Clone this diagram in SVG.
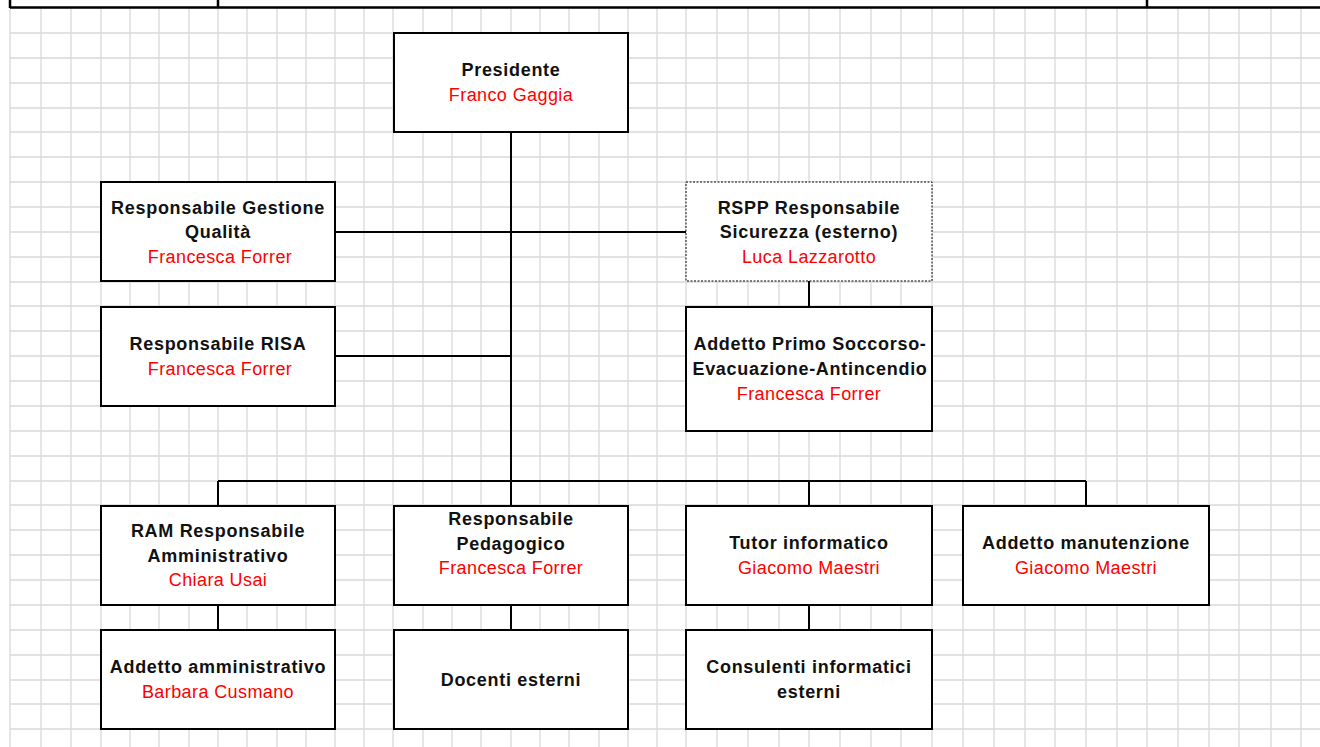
<svg xmlns="http://www.w3.org/2000/svg" width="1320" height="747" viewBox="0 0 1320 747">
<style>
.grid{stroke:#d9d9d9;stroke-width:1.3;fill:none}
.box{fill:#fff;stroke:#000;stroke-width:2}
.dbox{fill:#fff;stroke:#000;stroke-width:1;stroke-dasharray:2 1.5}
.conn{stroke:#000;stroke-width:2;fill:none}
.hdr{stroke:#000;stroke-width:2.5;fill:none}
text{font-family:"Liberation Sans",Arial,sans-serif;font-size:18px;letter-spacing:0.4px;text-anchor:middle}
.t{font-weight:bold;fill:#111;letter-spacing:0.7px}
.n{fill:#ff0000}
</style>
<rect width="1320" height="747" fill="#fff"/>
<g id="grid">
<path class="grid" d="M10,8V747M41,8V747M71,8V747M101,8V747M130,8V747M159,8V747M189,8V747M218,8V747M247,8V747M277,8V747M306,8V747M335,8V747M364,8V747M393,8V747M423,8V747M452,8V747M481,8V747M511,8V747M540,8V747M569,8V747M599,8V747M628,8V747M657,8V747M686,8V747M717,8V747M748,8V747M779,8V747M809,8V747M840,8V747M871,8V747M901,8V747M932,8V747M963,8V747M994,8V747M1025,8V747M1055,8V747M1086,8V747M1117,8V747M1147,8V747M1178,8V747M1209,8V747M1239,8V747M1271,8V747M1301,8V747"/>
<path class="grid" d="M10,33H1320M10,58H1320M10,83H1320M10,108H1320M10,132H1320M10,157H1320M10,182H1320M10,207H1320M10,232H1320M10,257H1320M10,282H1320M10,306H1320M10,331H1320M10,356H1320M10,381H1320M10,406H1320M10,431H1320M10,456H1320M10,481H1320M10,505H1320M10,530H1320M10,555H1320M10,580H1320M10,605H1320M10,630H1320M10,655H1320M10,680H1320M10,704H1320M10,729H1320"/>
</g>
<g id="header">
<path class="hdr" d="M10,7.5H1320M10,0V8M218,0V8M1147,0V8"/>
</g>
<g id="connectors">
<path class="conn" d="M511,132V481M335,232H686M335,356H511M218,481H1086M218,481V506M511,481V506M809,481V506M1086,481V506M809,281V307M218,605V630M511,605V630M809,605V630"/>
</g>
<g id="presidente">
<rect class="box" x="394" y="33" width="234" height="99"/>
<text class="t" x="511" y="76">Presidente</text>
<text class="n" x="511" y="101">Franco Gaggia</text>
</g>
<g id="qualita">
<rect class="box" x="101" y="182" width="234" height="99"/>
<text class="t" x="218" y="214">Responsabile Gestione</text>
<text class="t" x="218" y="238">Qualità</text>
<text class="n" x="220" y="263">Francesca Forrer</text>
</g>
<g id="rspp">
<rect class="dbox" x="686" y="182" width="246" height="99"/>
<text class="t" x="809" y="214">RSPP Responsabile</text>
<text class="t" x="809" y="238">Sicurezza (esterno)</text>
<text class="n" x="809" y="263">Luca Lazzarotto</text>
</g>
<g id="risa">
<rect class="box" x="101" y="307" width="234" height="99"/>
<text class="t" x="218" y="350">Responsabile RISA</text>
<text class="n" x="220" y="375">Francesca Forrer</text>
</g>
<g id="primosoccorso">
<rect class="box" x="686" y="307" width="246" height="124"/>
<text class="t" x="810" y="350">Addetto Primo Soccorso-</text>
<text class="t" x="810" y="375">Evacuazione-Antincendio</text>
<text class="n" x="809" y="400">Francesca Forrer</text>
</g>
<g id="ram">
<rect class="box" x="101" y="506" width="234" height="99"/>
<text class="t" x="218" y="537">RAM Responsabile</text>
<text class="t" x="218" y="562">Amministrativo</text>
<text class="n" x="218" y="586">Chiara Usai</text>
</g>
<g id="pedagogico">
<rect class="box" x="394" y="506" width="234" height="99"/>
<text class="t" x="511" y="525">Responsabile</text>
<text class="t" x="511" y="550">Pedagogico</text>
<text class="n" x="511" y="574">Francesca Forrer</text>
</g>
<g id="tutor">
<rect class="box" x="686" y="506" width="246" height="99"/>
<text class="t" x="809" y="549">Tutor informatico</text>
<text class="n" x="809" y="574">Giacomo Maestri</text>
</g>
<g id="manutenzione">
<rect class="box" x="963" y="506" width="246" height="99"/>
<text class="t" x="1086" y="549">Addetto manutenzione</text>
<text class="n" x="1086" y="574">Giacomo Maestri</text>
</g>
<g id="amministrativo">
<rect class="box" x="101" y="630" width="234" height="99"/>
<text class="t" x="218" y="673">Addetto amministrativo</text>
<text class="n" x="218" y="698">Barbara Cusmano</text>
</g>
<g id="docenti">
<rect class="box" x="394" y="630" width="234" height="99"/>
<text class="t" x="511" y="686">Docenti esterni</text>
</g>
<g id="consulenti">
<rect class="box" x="686" y="630" width="246" height="99"/>
<text class="t" x="809" y="673">Consulenti informatici</text>
<text class="t" x="809" y="698">esterni</text>
</g>
</svg>
